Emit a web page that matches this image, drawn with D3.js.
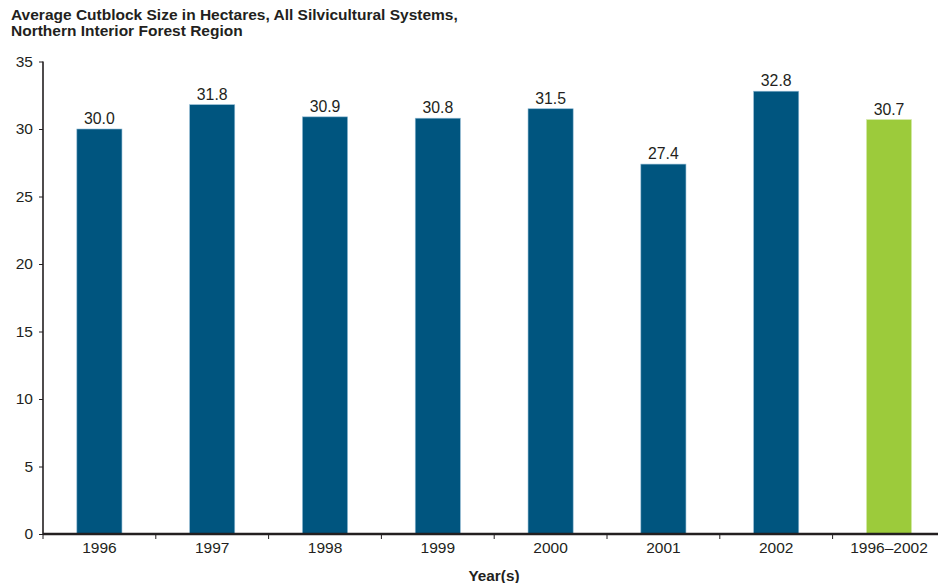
<!DOCTYPE html>
<html>
<head>
<meta charset="utf-8">
<script src="https://cdn.jsdelivr.net/npm/d3@7"></script>
<style>
  html, body { margin: 0; padding: 0; background: #fff; }
  svg { display: block; font-family: "Liberation Sans", Arial, sans-serif; }
</style>
</head>
<body>
<svg id="chart" width="938" height="583"></svg>
<script>
// Average cutblock size (ha) by year, plus the multi-year average
const categories = ["1996", "1997", "1998", "1999", "2000", "2001", "2002", "1996\u20132002"];
const values = [30.0, 31.8, 30.9, 30.8, 31.5, 27.4, 32.8, 30.7];
const yTicks = [0, 5, 10, 15, 20, 25, 30, 35];
const titleLines = ["Average Cutblock Size in Hectares, All Silvicultural Systems,", "Northern Interior Forest Region"];
const xTitle = "Year(s)";

const svg = d3.select("#chart");
const plotLeft = 43, plotTop = 61.5, plotBottom = 534;
const bandW = 112.8;
const plotRight = plotLeft + bandW * categories.length;
const ink = "#231f20";
const fontFamily = "Liberation Sans, Arial, sans-serif";

const x = d3.scaleBand().domain(categories).range([plotLeft, plotRight]).paddingInner(0.6).paddingOuter(0.3);
const y = d3.scaleLinear().domain([0, 35]).range([plotBottom, plotTop]);

// Title
svg.append("text")
  .attr("x", 11).attr("y", 20)
  .attr("font-size", 15.5).attr("font-weight", "bold").attr("fill", ink)
  .attr("textLength", null)
  .selectAll("tspan").data(titleLines).join("tspan")
  .attr("x", 11).attr("dy", (d, i) => i === 0 ? 0 : 16)
  .text(d => d);

// Bars
svg.append("g").selectAll("rect").data(values).join("rect")
  .attr("x", (d, i) => x(categories[i]))
  .attr("width", x.bandwidth())
  .attr("y", d => y(d))
  .attr("height", d => y(0) - y(d))
  .attr("fill", (d, i) => i === categories.length - 1 ? "#9ccb3b" : "#00557f")
  .attr("stroke", (d, i) => i === categories.length - 1 ? "#d8ebb0" : "#8fb9d3")
  .attr("stroke-width", 0.6);

// Value labels
svg.append("g").selectAll("text").data(values).join("text")
  .attr("x", (d, i) => x(categories[i]) + x.bandwidth() / 2)
  .attr("y", d => y(d) - 5)
  .attr("text-anchor", "middle")
  .attr("font-size", 15.8).attr("fill", ink)
  .text(d => d.toFixed(1));

// Y axis
const yAxis = svg.append("g")
  .attr("transform", `translate(${plotLeft},0)`)
  .call(d3.axisLeft(y).tickValues(yTicks).tickSize(4).tickPadding(6).tickFormat(d3.format("d")));
yAxis.select(".domain").attr("stroke", ink).attr("stroke-width", 1.6).attr("d", `M0,${plotTop}V${plotBottom}`);
yAxis.selectAll(".tick line").attr("stroke", ink);
yAxis.selectAll(".tick text").attr("font-size", 15.5).attr("fill", ink).attr("font-family", fontFamily);

// X axis: ticks sit at band boundaries
const xAxis = svg.append("g")
  .attr("transform", `translate(0,${plotBottom})`)
  .call(d3.axisBottom(x).tickSize(0).tickPadding(8));
xAxis.select(".domain").attr("stroke", ink).attr("stroke-width", 2.4).attr("d", `M${plotLeft},0H${plotRight}`);
xAxis.selectAll(".tick text").attr("font-size", 15.5).attr("fill", ink).attr("font-family", fontFamily);
xAxis.selectAll("line.sep").data(d3.range(categories.length + 1)).join("line")
  .attr("class", "sep")
  .attr("x1", i => plotLeft + i * bandW).attr("x2", i => plotLeft + i * bandW)
  .attr("y1", 0).attr("y2", 5)
  .attr("stroke", ink).attr("stroke-width", 1);

// X axis title
svg.append("text")
  .attr("x", 494).attr("y", 581)
  .attr("text-anchor", "middle")
  .attr("font-size", 15.3).attr("font-weight", "bold").attr("fill", ink)
  .text(xTitle);
</script>
</body>
</html>
